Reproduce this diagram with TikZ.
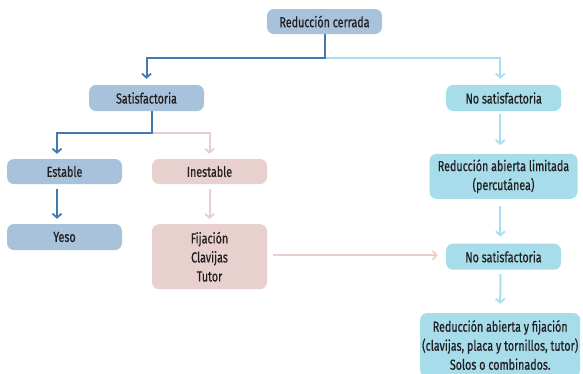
\documentclass[tikz,border=0pt]{standalone}
\usepackage{fontspec}
\setmainfont[FakeStretch=0.74,FakeBold=0.6]{Fira Sans}
\usetikzlibrary{arrows.meta}
\definecolor{dblue}{HTML}{4279AE}
\definecolor{bluebox}{HTML}{A7C2DA}
\definecolor{pinkbox}{HTML}{E8D0CE}
\definecolor{pinkline}{HTML}{E9CECC}
\definecolor{cyanbox}{HTML}{A7DDEA}
\definecolor{cyanline}{HTML}{A9DEEC}
\definecolor{txt}{HTML}{231F20}
\begin{document}
\begin{tikzpicture}[x=1pt,y=-1pt,
  box/.style={rounded corners=7pt, minimum width=115pt, minimum height=26pt,
    align=center, text=txt, inner sep=0pt, font=\fontsize{14.5}{19}\selectfont},
  bbox/.style={box, fill=bluebox},
  pbox/.style={box, fill=pinkbox},
  cbox/.style={box, fill=cyanbox},
  conn/.style={line width=2pt, line join=miter,
    -{Straight Barb[length=4pt,width=9pt,line width=1.8pt]}},
  dconn/.style={conn, draw=dblue},
  pconn/.style={conn, draw=pinkline},
  cconn/.style={conn, draw=cyanline}]
\useasboundingbox (0,0) rectangle (583,373);

\node[bbox, minimum height=25pt] (rc) at (324.5,21.5) {Reducción cerrada};
\node[bbox] (sat) at (146.5,98) {Satisfactoria};
\node[cbox] (ns) at (503.7,98) {No satisfactoria};
\node[bbox, minimum height=25pt] (est) at (64.5,171.5) {Estable};
\node[pbox, minimum height=25pt] (ine) at (209.5,171.5) {Inestable};
\node[cbox, minimum width=148pt, minimum height=45pt] (ral) at (503.5,176.3) {Reducción abierta limitada\\(percutánea)};
\node[bbox] (yeso) at (64.5,237) {Yeso};
\node[pbox, minimum height=65pt] (fij) at (209.5,256.7) {Fijación\\Clavijas\\Tutor};
\node[cbox] (ns2) at (503.5,256.7) {No satisfactoria};
\node[cbox, minimum width=160pt, minimum height=64pt] (fin) at (500.2,345) {Reducción abierta y fijación\\(clavijas, placa y tornillos, tutor)\\Solos o combinados.};

\coordinate (j1) at (324.5,58);
\coordinate (j2) at (151.7,133);

\draw[cconn, shorten >=6pt] (j1) -| ([xshift=-3.4pt]ns.north);
\draw[dconn, shorten >=6pt] (rc.south) -- (j1) -| (sat.north);

\draw[pconn, shorten >=5pt] (j2) -| (ine.north);
\draw[dconn, shorten >=5pt] (sat.south -| j2) -- (j2) -| ([xshift=-7.5pt]est.north);

\draw[cconn, shorten <=3pt, shorten >=8.5pt] ([xshift=-3.4pt]ns.south) -- ([xshift=-3.2pt]ral.north);
\draw[dconn, shorten <=5pt, shorten >=5pt] ([xshift=-7.5pt]est.south) -- ([xshift=-7.5pt]yeso.north);
\draw[pconn, shorten <=5pt, shorten >=5pt] (ine.south) -- (fij.north);
\draw[cconn, shorten <=6.7pt, shorten >=7pt] ([xshift=-3.2pt]ral.south) -- ([xshift=-3.2pt]ns2.north);
\draw[cconn, shorten <=4pt, shorten >=9pt] ([xshift=-3.2pt]ns2.south) -- ([xshift=0pt]fin.north);
\draw[pconn, shorten <=6pt, shorten >=8pt] ([yshift=1.4pt]fij.east) -- ([yshift=1.4pt]ns2.west);
\end{tikzpicture}
\end{document}
